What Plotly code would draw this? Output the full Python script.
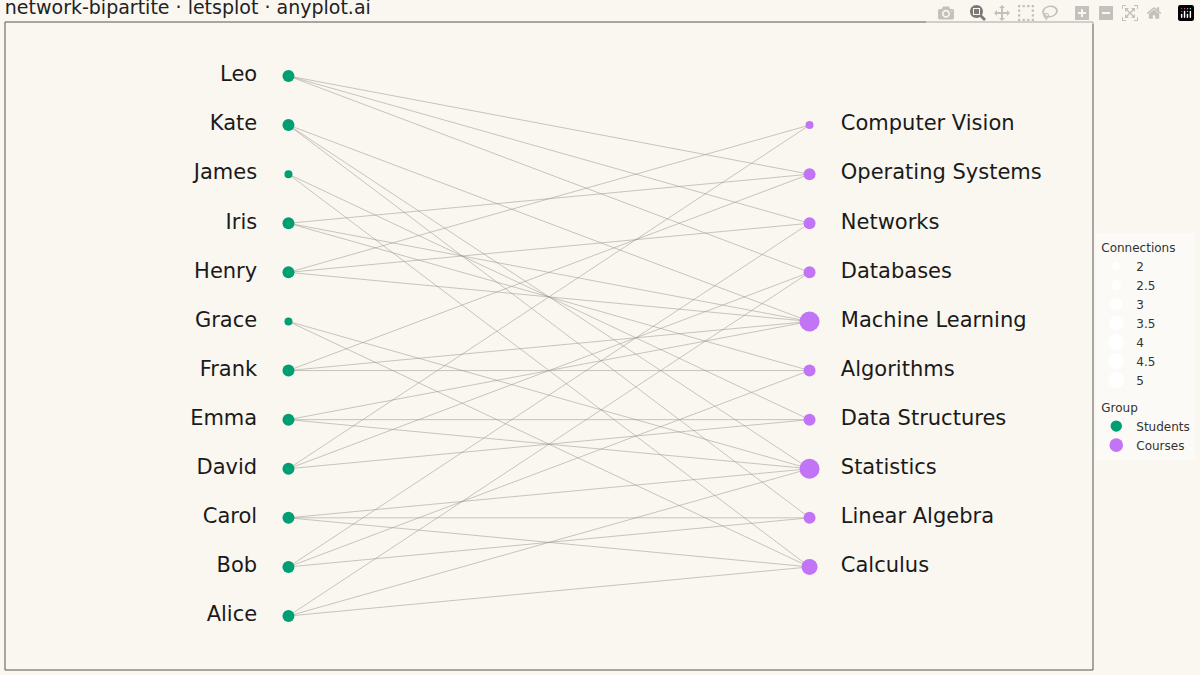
import plotly.graph_objects as go

students = ["Alice", "Bob", "Carol", "David", "Emma", "Frank", "Grace", "Henry", "Iris", "James", "Kate", "Leo"]
courses = ["Calculus", "Linear Algebra", "Statistics", "Data Structures", "Algorithms",
           "Machine Learning", "Databases", "Networks", "Operating Systems", "Computer Vision"]
edges = [
    ("Leo", "Operating Systems"), ("Leo", "Networks"), ("Leo", "Databases"),
    ("Kate", "Machine Learning"), ("Kate", "Statistics"), ("Kate", "Linear Algebra"),
    ("James", "Data Structures"), ("James", "Calculus"),
    ("Iris", "Operating Systems"), ("Iris", "Machine Learning"), ("Iris", "Algorithms"),
    ("Henry", "Computer Vision"), ("Henry", "Networks"), ("Henry", "Machine Learning"),
    ("Grace", "Statistics"), ("Grace", "Calculus"),
    ("Frank", "Operating Systems"), ("Frank", "Machine Learning"), ("Frank", "Algorithms"),
    ("Emma", "Machine Learning"), ("Emma", "Data Structures"), ("Emma", "Statistics"),
    ("David", "Computer Vision"), ("David", "Databases"), ("David", "Data Structures"),
    ("Carol", "Statistics"), ("Carol", "Linear Algebra"), ("Carol", "Calculus"),
    ("Bob", "Networks"), ("Bob", "Algorithms"), ("Bob", "Linear Algebra"),
    ("Alice", "Databases"), ("Alice", "Statistics"), ("Alice", "Calculus"),
]
legend_sizes = [2, 2.5, 3, 3.5, 4, 4.5, 5]

GREEN = "#009E73"
PURPLE = "#C274F7"
BG = "#FAF7F1"

sy = {s: i for i, s in enumerate(students)}
cy = {c: i + 1 for i, c in enumerate(courses)}
deg = {}
for s, c in edges:
    deg[s] = deg.get(s, 0) + 1
    deg[c] = deg.get(c, 0) + 1

ex, ey = [], []
for s, c in edges:
    ex += [0, 1, None]
    ey += [sy[s], cy[c], None]

fig = go.Figure()
fig.add_trace(go.Scatter(x=ex, y=ey, mode="lines", line=dict(color="rgba(150,145,135,0.5)", width=1),
                         hoverinfo="skip", showlegend=False))
for v in legend_sizes:
    fig.add_trace(go.Scatter(x=[None], y=[None], mode="markers", name=str(v),
                             marker=dict(size=4 * v, color="white", opacity=1),
                             legendgroup="conn", legendgrouptitle=dict(text="Connections")))
fig.add_trace(go.Scatter(x=[0] * len(students), y=[sy[s] for s in students], mode="markers",
                         marker=dict(size=[4 * deg[s] for s in students], color=GREEN, opacity=1,
                                     line=dict(width=0)),
                         name="Students", legendgroup="grp", legendgrouptitle=dict(text="Group"),
                         text=students))
fig.add_trace(go.Scatter(x=[1] * len(courses), y=[cy[c] for c in courses], mode="markers",
                         marker=dict(size=[4 * deg[c] for c in courses], color=PURPLE, opacity=1,
                                     line=dict(width=0)),
                         name="Courses", legendgroup="grp", text=courses))
fig.add_trace(go.Scatter(x=[-0.06] * len(students), y=[sy[s] for s in students], mode="text",
                         text=students, textposition="middle left",
                         textfont=dict(size=21, color="#1a1a1a"), showlegend=False, hoverinfo="skip"))
fig.add_trace(go.Scatter(x=[1.06] * len(courses), y=[cy[c] for c in courses], mode="text",
                         text=courses, textposition="middle right",
                         textfont=dict(size=21, color="#1a1a1a"), showlegend=False, hoverinfo="skip"))

fig.update_layout(
    width=1200, height=675, paper_bgcolor=BG, plot_bgcolor=BG,
    font=dict(family="DejaVu Sans", color="#333"),
    margin=dict(l=5, r=90, t=22, b=5),
    title=dict(text="network-bipartite · letsplot · anyplot.ai", x=0.004, xanchor="left",
               y=0.999, yanchor="top", font=dict(size=19, color="#222")),
    xaxis=dict(range=[-0.544, 1.544], visible=False),
    yaxis=dict(range=[-1.1, 12.1], visible=False),
    legend=dict(x=1.003, xanchor="left", y=0.675, yanchor="top", bgcolor="#FCFAF6",
                font=dict(size=12), itemsizing="trace", tracegroupgap=8,
                grouptitlefont=dict(size=12)),
    shapes=[dict(type="rect", xref="paper", yref="paper", x0=0, x1=1, y0=0, y1=1,
                 line=dict(color="#555", width=1))],
)
fig.write_html("out.html", post_script="document.body.style.margin='0';document.body.style.background='#FAF7F1';")
